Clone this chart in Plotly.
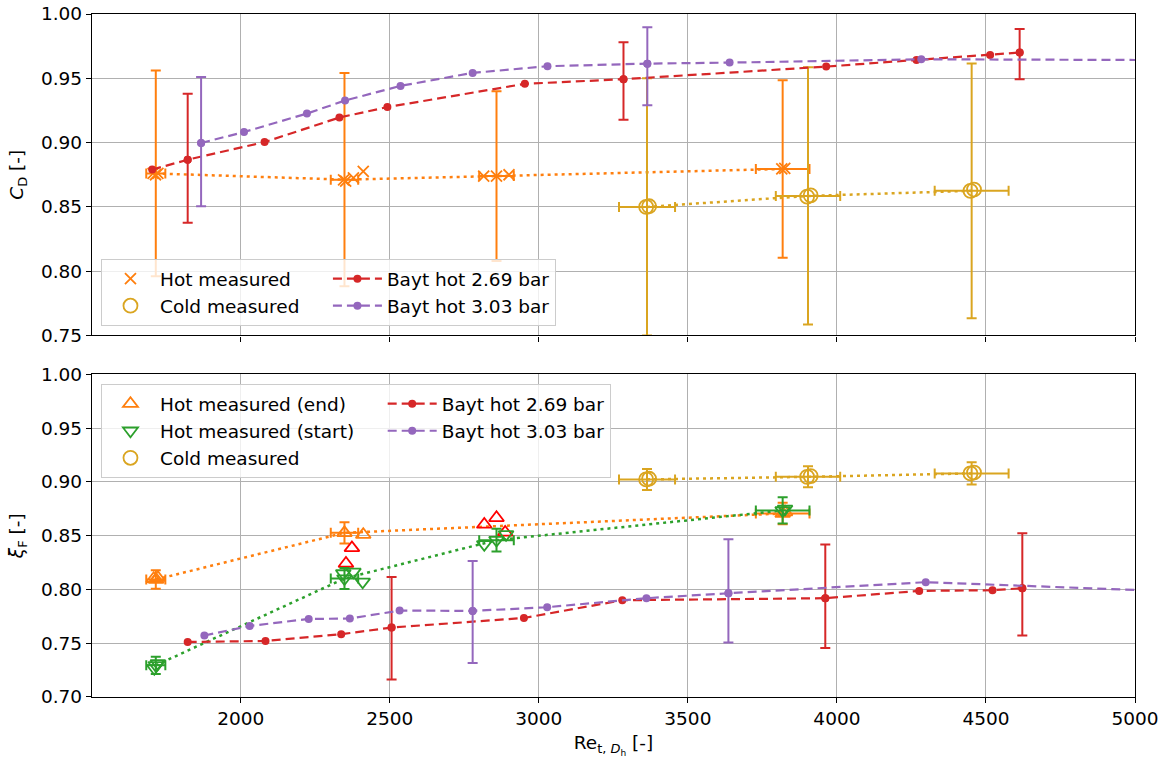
import plotly.graph_objects as go

# ---------------- measurement groups (Reynolds number) ----------------
re_hot = [1715, 2348, 2858, 3818]
re_hot_err = [32, 46, 58, 90]
re_cold = [3363, 3903, 4452]
re_cold_err = [94, 108, 124]

# ---------------- discharge coefficient C_D ----------------
cd_hot_mean = [0.876, 0.8712, 0.874, 0.8795]
cd_hot_err = [0.080, 0.083, 0.066, 0.069]
cd_hot_pts_re = [1706, 1714, 1722, 2345, 2352, 2378, 2411, 2815, 2858, 2900, 3815, 3825]
cd_hot_pts = [0.876, 0.875, 0.876, 0.871, 0.870, 0.8725, 0.8776, 0.874, 0.874, 0.875, 0.8795, 0.880]

cd_cold_mean = [0.850, 0.8585, 0.8625]
cd_cold_err = [0.100, 0.100, 0.099]
cd_cold_pts_re = [3360, 3370, 3900, 3912, 4448, 4460]
cd_cold_pts = [0.850, 0.8505, 0.858, 0.859, 0.8625, 0.8635]

bayt269_re_cd = [1703, 1822, 2080, 2331, 2492, 2953, 3284, 3964, 4267, 4514, 4613]
bayt269_cd = [0.879, 0.8867, 0.9004, 0.9195, 0.9276, 0.9457, 0.9493, 0.9591, 0.9643, 0.9682, 0.9700]
bayt269_cd_up = [None, 0.0512, None, None, None, None, 0.0287, None, None, None, 0.0184]
bayt269_cd_dn = [None, 0.0491, None, None, None, None, 0.0316, None, None, None, 0.0207]

bayt303_re_cd = [1867, 2011, 2222, 2350, 2536, 2778, 3029, 3364, 3640, 4283, 5300]
bayt303_cd = [0.8997, 0.9082, 0.9226, 0.9327, 0.9441, 0.9542, 0.9594, 0.9614, 0.9622, 0.9648, 0.964]
bayt303_cd_up = [0.0514, None, None, None, None, None, None, 0.0283, None, None, None]
bayt303_cd_dn = [0.0492, None, None, None, None, None, None, 0.0323, None, None, None]

# ---------------- friction factor xi_F ----------------
xi_end_re = [1715, 2348, 3818]
xi_end_re_err = [32, 46, 90]
xi_end_mean = [0.8093, 0.8527, 0.8707]
xi_end_err = [0.0087, 0.0098, 0.010]
xi_end_pts_re = [1708, 1716, 1722, 2348, 2411, 3818, 3826]
xi_end_pts = [0.810, 0.8093, 0.811, 0.8527, 0.851, 0.8707, 0.872]
xi_end_flag_re = [2353, 2373, 2817, 2858, 2887]
xi_end_flag = [0.8242, 0.8387, 0.8605, 0.8667, 0.8531]

xi_start_mean = [0.7295, 0.8102, 0.8459, 0.8735]
xi_start_err = [0.008, 0.0098, 0.0106, 0.0122]
xi_start_pts_re = [1710, 1715, 1722, 2344, 2348, 2378, 2409, 2817, 2858, 2890, 3818, 3826]
xi_start_pts = [0.7267, 0.7295, 0.7313, 0.8149, 0.8102, 0.8164, 0.8071, 0.842, 0.8459, 0.8513, 0.8735, 0.875]

xi_cold_mean = [0.9024, 0.9048, 0.908]
xi_cold_err = [0.0098, 0.0098, 0.0104]
xi_cold_pts_re = [3360, 3370, 3900, 3912, 4448, 4460]
xi_cold_pts = [0.9024, 0.903, 0.9048, 0.9055, 0.908, 0.9088]

bayt269_re_xi = [1822, 2083, 2337, 2506, 2950, 3280, 3961, 4276, 4522, 4622]
bayt269_xi = [0.7512, 0.7521, 0.7584, 0.7646, 0.7735, 0.7900, 0.7919, 0.7987, 0.7993, 0.8012]
bayt269_xi_up = [None, None, None, 0.0471, None, None, 0.050, None, None, 0.0512]
bayt269_xi_dn = [None, None, None, 0.0484, None, None, 0.0463, None, None, 0.044]

bayt303_re_xi = [1878, 2030, 2228, 2366, 2533, 2778, 3028, 3361, 3636, 4298, 5300]
bayt303_xi = [0.7572, 0.7661, 0.7726, 0.7730, 0.7804, 0.7801, 0.7835, 0.7919, 0.7965, 0.8068, 0.7965]
bayt303_xi_up = [None, None, None, None, None, 0.0465, None, None, 0.0503, None, None]
bayt303_xi_dn = [None, None, None, None, None, 0.0484, None, None, 0.0459, None, None]

x_ticks = [2000, 2500, 3000, 3500, 4000, 4500, 5000]
cd_ticks = [0.75, 0.80, 0.85, 0.90, 0.95, 1.00]
xi_ticks = [0.70, 0.75, 0.80, 0.85, 0.90, 0.95, 1.00]

ORANGE = "#ff7f0e"
GREEN = "#2ca02c"
RED = "#d62728"
PURPLE = "#9467bd"
GOLD = "#daa520"
FLAG = "#ff0000"
FONT = "DejaVu Sans"
FS = 18.5
PAD = "\u00a0"

fig = go.Figure()


def mean_line(x, y, xerr, yerr, color, xa, ya):
    fig.add_trace(go.Scatter(
        x=x, y=y, mode="lines", xaxis=xa, yaxis=ya, showlegend=False,
        line=dict(color=color, width=2.5, dash="3px,4px"),
        error_x=dict(type="data", array=xerr, color=color, thickness=2, width=5),
        error_y=dict(type="data", array=yerr, color=color, thickness=2, width=5),
    ))


def points(x, y, name, symbol, color, size, xa, ya, legend, group, show=True):
    fig.add_trace(go.Scatter(
        x=x, y=y, mode="markers", name=name, xaxis=xa, yaxis=ya,
        legend=legend, legendgroup=group, showlegend=show,
        marker=dict(symbol=symbol, size=size, color=color,
                    line=dict(color=color, width=1.8)),
    ))


def bayt(x, y, up, dn, name, color, xa, ya, legend, group):
    fig.add_trace(go.Scatter(
        x=x, y=y, mode="lines+markers", name=name, xaxis=xa, yaxis=ya,
        legend=legend, legendgroup=group,
        line=dict(color=color, width=2.2, dash="9px,5px"),
        marker=dict(symbol="circle", size=8, color=color),
    ))
    idx = [i for i, v in enumerate(up) if v is not None]
    fig.add_trace(go.Scatter(
        x=[x[i] for i in idx], y=[y[i] for i in idx], mode="markers",
        xaxis=xa, yaxis=ya, showlegend=False,
        marker=dict(symbol="circle", size=8, color=color),
        error_y=dict(type="data", symmetric=False,
                     array=[up[i] for i in idx], arrayminus=[dn[i] for i in idx],
                     color=color, thickness=2, width=5),
    ))


# ---- top panel: C_D
mean_line(re_hot, cd_hot_mean, re_hot_err, cd_hot_err, ORANGE, "x", "y")
points(cd_hot_pts_re, cd_hot_pts, "Hot measured", "x-thin", ORANGE, 11, "x", "y", "legend", "meas")
mean_line(re_cold, cd_cold_mean, re_cold_err, cd_cold_err, GOLD, "x", "y")
points(cd_cold_pts_re, cd_cold_pts, "Cold measured" + PAD * 4, "circle-open", GOLD, 14, "x", "y", "legend", "meas")
bayt(bayt269_re_cd, bayt269_cd, bayt269_cd_up, bayt269_cd_dn, "Bayt hot 2.69 bar", RED, "x", "y", "legend", "bayt")
bayt(bayt303_re_cd, bayt303_cd, bayt303_cd_up, bayt303_cd_dn, "Bayt hot 3.03 bar", PURPLE, "x", "y", "legend", "bayt")

# ---- bottom panel: xi_F
mean_line(xi_end_re, xi_end_mean, xi_end_re_err, xi_end_err, ORANGE, "x2", "y2")
points(xi_end_pts_re, xi_end_pts, "Hot measured (end)", "triangle-up-open", ORANGE, 13, "x2", "y2", "legend2", "meas2")
points(xi_end_flag_re, xi_end_flag, "flagged", "triangle-up-open", FLAG, 13, "x2", "y2", "legend2", "meas2", show=False)
mean_line(re_hot, xi_start_mean, re_hot_err, xi_start_err, GREEN, "x2", "y2")
points(xi_start_pts_re, xi_start_pts, "Hot measured (start)" + PAD * 4, "triangle-down-open", GREEN, 13, "x2", "y2", "legend2", "meas2")
mean_line(re_cold, xi_cold_mean, re_cold_err, xi_cold_err, GOLD, "x2", "y2")
points(xi_cold_pts_re, xi_cold_pts, "Cold measured", "circle-open", GOLD, 14, "x2", "y2", "legend2", "meas2")
bayt(bayt269_re_xi, bayt269_xi, bayt269_xi_up, bayt269_xi_dn, "Bayt hot 2.69 bar", RED, "x2", "y2", "legend2", "bayt2")
bayt(bayt303_re_xi, bayt303_xi, bayt303_xi_up, bayt303_xi_dn, "Bayt hot 3.03 bar", PURPLE, "x2", "y2", "legend2", "bayt2")

axis_common = dict(
    showline=True, mirror=True, linecolor="black", linewidth=1.3,
    showgrid=True, gridcolor="#b0b0b0", gridwidth=1,
    ticks="outside", ticklen=5, tickwidth=1.2, tickcolor="black",
    tickfont=dict(family=FONT, size=FS, color="black"), zeroline=False,
    automargin=False,
)
legend_common = dict(
    orientation="h", traceorder="grouped", xanchor="left", x=0.0086,
    bgcolor="rgba(255,255,255,0.8)", bordercolor="#cccccc", borderwidth=1,
    font=dict(family=FONT, size=FS, color="black"), itemwidth=49,
    tracegroupgap=0,
)

fig.update_layout(
    width=1167, height=758,
    margin=dict(l=92, r=32, t=14, b=61),
    paper_bgcolor="white", plot_bgcolor="white",
    font=dict(family=FONT, size=FS, color="black"),
    xaxis=dict(axis_common, domain=[0, 1], anchor="y", range=[1501, 5000],
               tickvals=x_ticks, showticklabels=False),
    yaxis=dict(axis_common, domain=[0.5293, 1], anchor="x", range=[0.75, 1.0],
               tickvals=cd_ticks, tickformat=".2f",
               title=dict(text="<i>C</i><sub>D</sub> [-]", font=dict(family=FONT, size=FS), standoff=12)),
    xaxis2=dict(axis_common, domain=[0, 1], anchor="y2", range=[1501, 5000],
                tickvals=x_ticks,
                title=dict(text="Re<sub>t, <i>D</i><sub>h</sub></sub> [-]", font=dict(family=FONT, size=FS), standoff=8)),
    yaxis2=dict(axis_common, domain=[0, 0.4722], anchor="x2", range=[0.70, 1.0],
                tickvals=xi_ticks, tickformat=".2f",
                title=dict(text="<i>ξ</i><sub>F</sub> [-]", font=dict(family=FONT, size=FS), standoff=12)),
    legend=dict(legend_common, y=0.543, yanchor="bottom"),
    legend2=dict(legend_common, y=0.458, yanchor="top"),
)

fig.write_html("out.html")
